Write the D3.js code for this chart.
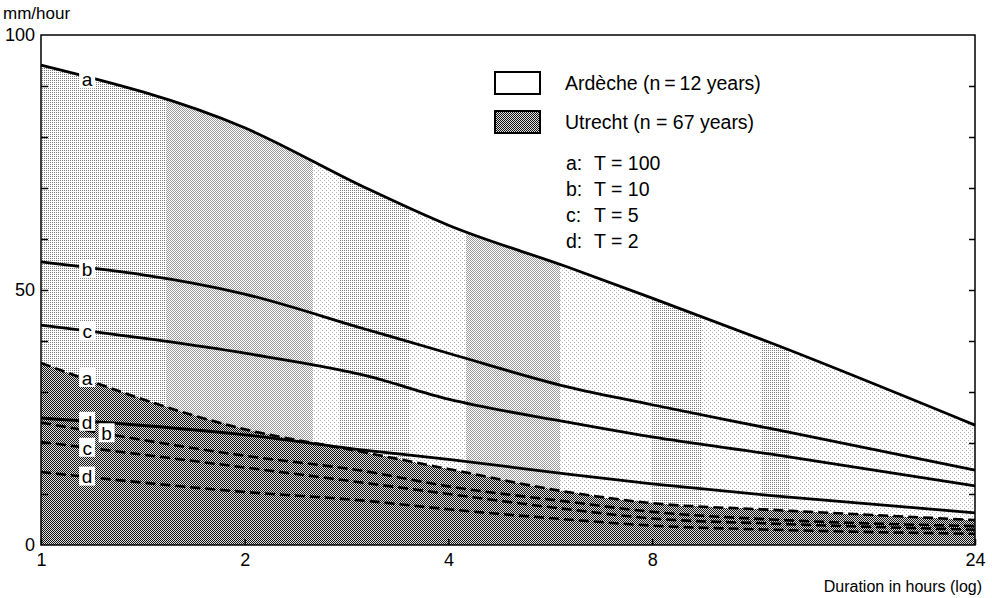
<!DOCTYPE html>
<html>
<head>
<meta charset="utf-8">
<script src="https://cdn.jsdelivr.net/npm/d3@7/dist/d3.min.js"></script>
<style>
  html, body { margin: 0; padding: 0; background: #fff; }
  svg { display: block; font-family: "Liberation Sans", Arial, Helvetica, sans-serif; }
</style>
</head>
<body>
<svg id="chart" width="992" height="598"></svg>
<script>
// Rainfall intensity–duration curves (mm/hour) for four return periods
const hours = [1, 2, 3, 4, 6, 8, 12, 24];

// Ardèche (n = 12 years), solid lines
const ardecheA = [94.1, 81.8, 70.2, 62.7, 54.5, 48.4, 39.6, 23.5];
const ardecheB = [55.5, 49.2, 42.4, 37.6, 31.0, 27.5, 22.8, 14.7];
const ardecheC = [43.1, 37.6, 33.3, 28.6, 24.1, 21.2, 17.8, 11.6];
const ardecheD = [24.9, 21.6, 18.6, 16.8, 13.9, 12.0, 9.7, 6.3];

// Utrecht (n = 67 years), dashed lines
const utrechtA = [35.7, 22.7, 18.2, 14.9, 10.4, 8.2, 6.9, 4.9];
const utrechtB = [24.0, 17.5, 14.5, 11.5, 8.5, 6.5, 5.0, 3.7];
const utrechtC = [20.2, 15.2, 12.2, 10.0, 7.0, 5.2, 4.2, 3.0];
const utrechtD = [14.3, 10.4, 8.7, 7.0, 5.0, 3.8, 3.0, 2.2];

const curveKeys = ["a", "b", "c", "d"];
const returnPeriods = ["100", "10", "5", "2"];
const xTicks = [1, 2, 4, 8, 24];
const yLabels = [0, 50, 100];
const yMinor = [10, 20, 30, 40, 50, 60, 70, 80, 90];
const legendNames = ["Ardèche (n\u2009=\u200912 years)", "Utrecht (n = 67 years)"];
const xTitle = "Duration in hours (log)";
const yTitle = "mm/hour";

const svg = d3.select("#chart");
const X0 = 41, X1 = 975, Y0 = 545, Y1 = 35;
const x = d3.scaleLog().domain([1, 24]).range([X0, X1]);
const y = d3.scaleLinear().domain([0, 100]).range([Y0, Y1]);

const series = (vals) => hours.map((h, i) => ({ h, v: vals[i] }));
const lineGen = d3.line().x(d => x(d.h)).y(d => y(d.v)).curve(d3.curveMonotoneX);
const areaGen = d3.area().x(d => x(d.h)).y0(y(0)).y1(d => y(d.v)).curve(d3.curveMonotoneX);

// value at any duration, interpolated on the log axis
function valueAt(vals, h) {
  const lh = Math.log(h);
  for (let i = 0; i < hours.length - 1; i++) {
    const a = Math.log(hours[i]), b = Math.log(hours[i + 1]);
    if (lh >= a && lh <= b) return vals[i] + (vals[i + 1] - vals[i]) * (lh - a) / (b - a);
  }
  return vals[vals.length - 1];
}

// ---- fill textures (screened print look)
const defs = svg.append("defs");
function dotPattern(id, size, bg, dots, fg) {
  const p = defs.append("pattern").attr("id", id).attr("patternUnits", "userSpaceOnUse")
    .attr("width", size).attr("height", size);
  p.append("rect").attr("width", size).attr("height", size).attr("fill", bg);
  dots.forEach(([dx, dy]) => p.append("rect").attr("x", dx).attr("y", dy)
    .attr("width", 1).attr("height", 1).attr("fill", fg));
}
dotPattern("stipDense", 2, "#fff", [[0, 0], [1, 1]], "#9a9a9a");
dotPattern("stipMed", 2, "#fff", [[0, 0]], "#7c7c7c");
dotPattern("stipSparse", 4, "#fff", [[0, 0], [2, 2]], "#b0b0b0");
dotPattern("darkCheck", 2, "#e0e0e0", [[0, 0], [1, 1]], "#111");

// texture columns across the Ardèche area, in hours
const textureBands = [
  [1, 1.53, "stipMed"], [1.53, 2.52, "stipDense"], [2.52, 2.77, "stipSparse"],
  [2.77, 3.51, "stipMed"], [3.51, 4.24, "stipSparse"], [4.24, 5.85, "stipDense"],
  [5.85, 7.96, "stipSparse"], [7.96, 9.44, "stipMed"], [9.44, 11.6, "stipSparse"],
  [11.6, 12.8, "stipMed"], [12.8, 24, "stipSparse"]
];

defs.append("clipPath").attr("id", "ardClip")
  .append("path").attr("d", areaGen(series(ardecheA)));

const plot = svg.append("g");
plot.append("g").attr("clip-path", "url(#ardClip)")
  .selectAll("rect").data(textureBands).join("rect")
  .attr("x", d => x(d[0])).attr("width", d => x(d[1]) - x(d[0]))
  .attr("y", Y1).attr("height", Y0 - Y1)
  .attr("fill", d => `url(#${d[2]})`).attr("shape-rendering", "crispEdges");

// Utrecht area
plot.append("path").attr("d", areaGen(series(utrechtA)))
  .attr("fill", "url(#darkCheck)").attr("shape-rendering", "crispEdges");

// ---- curves
const ardSets = [ardecheA, ardecheB, ardecheC, ardecheD];
const utrSets = [utrechtA, utrechtB, utrechtC, utrechtD];

plot.selectAll("path.utr").data(utrSets).join("path").attr("class", "utr")
  .attr("d", d => lineGen(series(d)))
  .attr("fill", "none").attr("stroke", "#000").attr("stroke-width", 2.6)
  .attr("stroke-dasharray", "10,5");

plot.selectAll("path.ard").data(ardSets).join("path").attr("class", "ard")
  .attr("d", d => lineGen(series(d)))
  .attr("fill", "none").attr("stroke", "#000").attr("stroke-width", 2.8)
  .attr("stroke-linejoin", "round");

// ---- curve letters with white knock-out
const curveLabels = [];
ardSets.forEach((s, i) => curveLabels.push({ k: curveKeys[i], h: 1.17, v: valueAt(s, 1.17) }));
utrSets.forEach((s, i) => {
  const h = i === 1 ? 1.25 : 1.17;
  curveLabels.push({ k: curveKeys[i], h, v: valueAt(s, h) });
});
const lab = plot.selectAll("g.clab").data(curveLabels).join("g").attr("class", "clab")
  .attr("transform", d => `translate(${x(d.h)},${y(d.v)})`);
lab.append("rect").attr("x", -8).attr("y", -10).attr("width", 16).attr("height", 19).attr("fill", "#fff");
lab.append("text").attr("text-anchor", "middle").attr("dy", "0.36em")
  .attr("font-size", 19).text(d => d.k);

// ---- frame and axes
svg.append("rect").attr("x", X0).attr("y", Y1).attr("width", X1 - X0).attr("height", Y0 - Y1)
  .attr("fill", "none").attr("stroke", "#000").attr("stroke-width", 1.5);

const xAxis = svg.append("g").attr("transform", `translate(0,${Y0})`)
  .call(d3.axisBottom(x).tickValues(xTicks).tickFormat(d3.format("d"))
    .tickSizeInner(-6).tickSizeOuter(0).tickPadding(8));
xAxis.select(".domain").remove();
xAxis.selectAll("text").attr("font-size", 18).attr("fill", "#000").attr("font-family", null);
xAxis.selectAll("line").attr("stroke-width", 1.5);

const yAxis = svg.append("g").attr("transform", `translate(${X0},0)`)
  .call(d3.axisLeft(y).tickValues(yLabels).tickSize(0).tickPadding(6));
yAxis.select(".domain").remove();
yAxis.selectAll("text").attr("font-size", 18).attr("fill", "#000")
  .attr("font-family", null).attr("dy", "0.3em");

const yTicksL = svg.append("g").attr("transform", `translate(${X0},0)`)
  .call(d3.axisLeft(y).tickValues(yMinor).tickSize(-7).tickFormat(""));
yTicksL.select(".domain").remove();
yTicksL.selectAll("line").attr("stroke-width", 1.5);

const yTicksR = svg.append("g").attr("transform", `translate(${X1},0)`)
  .call(d3.axisRight(y).tickValues(yMinor).tickSize(-6).tickFormat(""));
yTicksR.select(".domain").remove();
yTicksR.selectAll("line").attr("stroke-width", 1.5);

svg.append("text").attr("x", 3).attr("y", 19).attr("font-size", 17).text(yTitle);
svg.append("text").attr("x", 982).attr("y", 592).attr("text-anchor", "end")
  .attr("font-size", 16).text(xTitle);

// ---- legend
const legend = svg.append("g");
const legFills = ["#fff", "url(#darkCheck)"];
const legRows = [83, 122];
legend.selectAll("rect").data(legendNames).join("rect")
  .attr("x", 495).attr("y", (d, i) => legRows[i] - 11).attr("width", 45).attr("height", 22)
  .attr("fill", (d, i) => legFills[i]).attr("stroke", "#000").attr("stroke-width", 1.3)
  .attr("shape-rendering", "crispEdges");
legend.selectAll("text.name").data(legendNames).join("text").attr("class", "name")
  .attr("x", 565).attr("y", (d, i) => legRows[i]).attr("dy", "0.36em")
  .attr("font-size", 19.5).text(d => d);

const tRows = [163, 189, 215, 241];
legend.selectAll("text.key").data(curveKeys).join("text").attr("class", "key")
  .attr("x", 566).attr("y", (d, i) => tRows[i]).attr("dy", "0.36em")
  .attr("font-size", 19.5).text(d => d + ":");
legend.selectAll("text.per").data(returnPeriods).join("text").attr("class", "per")
  .attr("x", 594).attr("y", (d, i) => tRows[i]).attr("dy", "0.36em")
  .attr("font-size", 19.5).text(d => "T = " + d);
</script>
</body>
</html>
